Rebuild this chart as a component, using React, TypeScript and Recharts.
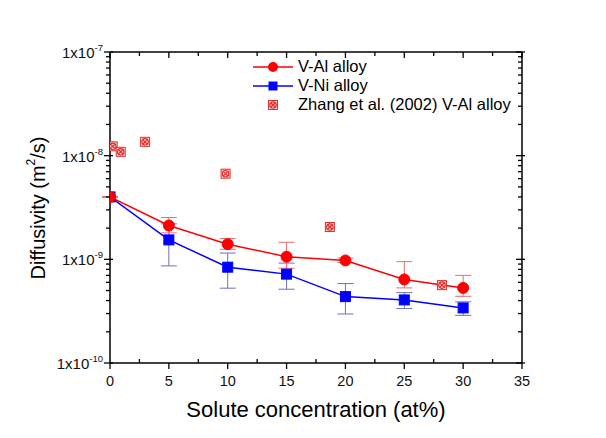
import React from "react";
import { ComposedChart, Line, Scatter, XAxis, YAxis, ErrorBar, Legend } from "recharts";

// solute concentration (at%)
const conc = [0, 5, 10, 15, 20, 25, 30];

// V-Al alloy diffusivity (m2/s) with error bounds
const vAl = [4.0e-9, 2.12e-9, 1.4e-9, 1.06e-9, 9.75e-10, 6.4e-10, 5.3e-10];
const vAlLo = [4.0e-9, 1.8e-9, 1.25e-9, 8.2e-10, 9.3e-10, 5.3e-10, 4.4e-10];
const vAlHi = [4.0e-9, 2.53e-9, 1.59e-9, 1.46e-9, 1.03e-9, 9.5e-10, 7.0e-10];

// V-Ni alloy
const vNi = [4.0e-9, 1.54e-9, 8.4e-10, 7.2e-10, 4.37e-10, 4.06e-10, 3.4e-10];
const vNiLo = [4.0e-9, 8.65e-10, 5.27e-10, 5.15e-10, 2.97e-10, 3.35e-10, 2.88e-10];
const vNiHi = [4.0e-9, 2.2e-9, 1.15e-9, 9.2e-10, 5.84e-10, 4.78e-10, 3.89e-10];

// Zhang et al. (2002) V-Al alloy
const zhangX = [0.23, 0.91, 2.98, 9.82, 18.68, 28.2];
const zhangY = [1.23e-8, 1.09e-8, 1.36e-8, 6.7e-9, 2.05e-9, 5.64e-10];

const xTicks = [0, 2.5, 5, 7.5, 10, 12.5, 15, 17.5, 20, 22.5, 25, 27.5, 30, 32.5, 35];
const yMajor = [1e-10, 1e-9, 1e-8, 1e-7];
const yTicks: number[] = [];
yMajor.forEach((d, i) => {
  if (i === yMajor.length - 1) {
    yTicks.push(d);
    return;
  }
  for (let k = 1; k < 10; k++) yTicks.push(+(k * d).toPrecision(3));
});

const alData = conc.map((c, i) => ({ x: c, y: vAl[i], err: [vAl[i] - vAlLo[i], vAlHi[i] - vAl[i]] }));
const niData = conc.map((c, i) => ({ x: c, y: vNi[i], err: [vNi[i] - vNiLo[i], vNiHi[i] - vNi[i]] }));
const zhangData = zhangX.map((x, i) => ({ x, y: zhangY[i] }));

const FONT = "'Liberation Sans', Arial, sans-serif";
const isMajorY = (v: number) => yMajor.some((m) => Math.abs(v - m) / m < 1e-6);
const isMajorX = (v: number) => v % 5 === 0;

const BottomTick = (props: any) => {
  const { x, y, payload } = props;
  const major = isMajorX(payload.value);
  return (
    <g>
      <line x1={x} x2={x} y1={y} y2={major ? y + 6 : y - 4} stroke="#000" strokeWidth={1.3} />
      {major && (
        <text x={x} y={y + 23} textAnchor="middle" fontSize={14.5} fontFamily={FONT} fill="#111">
          {payload.value}
        </text>
      )}
    </g>
  );
};

const TopTick = (props: any) => {
  const { x, y, payload } = props;
  const major = isMajorX(payload.value);
  return <line x1={x} x2={x} y1={y} y2={y + (major ? 6 : 4)} stroke="#000" strokeWidth={1.3} />;
};

const LeftTick = (props: any) => {
  const { x, y, payload } = props;
  const major = isMajorY(payload.value);
  const exp = Math.round(Math.log10(payload.value));
  return (
    <g>
      <line x1={major ? x - 6 : x - 4} x2={major ? x + 3 : x} y1={y} y2={y} stroke="#000" strokeWidth={1.3} />
      {major && (
        <text x={x - 7} y={y + 6} textAnchor="end" fontSize={15} fontFamily={FONT} fill="#111">
          1x10
          <tspan fontSize={9.5} dy={-7}>
            {exp}
          </tspan>
        </text>
      )}
    </g>
  );
};

const RightTick = (props: any) => {
  const { x, y, payload } = props;
  const major = isMajorY(payload.value);
  return <line x1={major ? x - 6 : x - 4} x2={major ? x + 3 : x} y1={y} y2={y} stroke="#000" strokeWidth={1.3} />;
};

const ZhangMark = (props: any) => {
  const { cx, cy } = props;
  if (cx == null || cy == null) return null;
  const s = 4.5;
  return (
    <g>
      <rect x={cx - s} y={cy - s} width={2 * s} height={2 * s} fill="#f8d0d0" stroke="#e03030" strokeWidth={1} />
      <circle cx={cx} cy={cy} r={3.2} fill="none" stroke="#e03030" strokeWidth={1.2} />
      <line x1={cx - 2.5} y1={cy - 2.5} x2={cx + 2.5} y2={cy + 2.5} stroke="#e03030" strokeWidth={1.2} />
      <line x1={cx - 2.5} y1={cy + 2.5} x2={cx + 2.5} y2={cy - 2.5} stroke="#e03030" strokeWidth={1.2} />
    </g>
  );
};

const RedDot = (props: any) => {
  const { cx, cy } = props;
  return <circle cx={cx} cy={cy} r={5.5} fill="#ff0000" stroke="#ff0000" strokeWidth={1} />;
};

const BlueDot = (props: any) => {
  const { cx, cy } = props;
  return <rect x={cx - 5} y={cy - 5} width={10} height={10} fill="#0000ff" stroke="#0000ff" strokeWidth={1} />;
};

const LegendBox = () => {
  const row = { display: "flex", alignItems: "center", height: 19 } as const;
  const txt = { fontFamily: FONT, fontSize: 16.5, color: "#000", marginLeft: 5 } as const;
  return (
    <div>
      <div style={row}>
        <svg width={40} height={14}>
          <line x1={0} x2={40} y1={7} y2={7} stroke="#ff0000" strokeWidth={1.5} />
          <circle cx={20} cy={7} r={5} fill="#ff0000" />
        </svg>
        <span style={txt}>V-Al alloy</span>
      </div>
      <div style={row}>
        <svg width={40} height={14}>
          <line x1={0} x2={40} y1={7} y2={7} stroke="#0000ff" strokeWidth={1.5} />
          <rect x={15.5} y={2.5} width={9} height={9} fill="#0000ff" />
        </svg>
        <span style={txt}>V-Ni alloy</span>
      </div>
      <div style={row}>
        <svg width={40} height={14}>
          <ZhangMark cx={20} cy={7} />
        </svg>
        <span style={txt}>Zhang et al. (2002) V-Al alloy</span>
      </div>
    </div>
  );
};

export default function App() {
  return (
    <div style={{ position: "absolute", left: 0, top: 0, width: 606, height: 438, background: "#fff" }}>
      <ComposedChart width={606} height={438} margin={{ top: 42, right: 74, bottom: 15, left: 0 }}>
        <XAxis
          xAxisId="b"
          type="number"
          dataKey="x"
          domain={[0, 35]}
          ticks={xTicks}
          interval={0}
          tickSize={0}
          tickMargin={0}
          tickLine={false}
          tick={<BottomTick />}
          height={60}
          stroke="#000"
          strokeWidth={1.5}
          allowDataOverflow
        />
        <XAxis
          xAxisId="t"
          orientation="top"
          type="number"
          dataKey="x"
          domain={[0, 35]}
          ticks={xTicks}
          interval={0}
          tickSize={0}
          tickMargin={0}
          tickLine={false}
          tick={<TopTick />}
          height={10}
          stroke="#000"
          strokeWidth={1.5}
          allowDataOverflow
        />
        <YAxis
          yAxisId="l"
          type="number"
          scale="log"
          domain={[1e-10, 1e-7]}
          ticks={yTicks}
          interval={0}
          tickSize={0}
          tickMargin={0}
          tickLine={false}
          tick={<LeftTick />}
          width={110}
          stroke="#000"
          strokeWidth={1.5}
          allowDataOverflow
        />
        <YAxis
          yAxisId="r"
          orientation="right"
          type="number"
          scale="log"
          domain={[1e-10, 1e-7]}
          ticks={yTicks}
          interval={0}
          tickSize={0}
          tickMargin={0}
          tickLine={false}
          tick={<RightTick />}
          width={10}
          stroke="#000"
          strokeWidth={1.5}
          allowDataOverflow
        />
        <Line
          xAxisId="b"
          yAxisId="l"
          data={niData}
          dataKey="y"
          stroke="#0000ff"
          strokeWidth={1.5}
          dot={<BlueDot />}
          isAnimationActive={false}
        >
          <ErrorBar dataKey="err" direction="y" width={8} stroke="#7070b8" strokeWidth={1} />
        </Line>
        <Line
          xAxisId="b"
          yAxisId="l"
          data={alData}
          dataKey="y"
          stroke="#ff0000"
          strokeWidth={1.5}
          dot={<RedDot />}
          isAnimationActive={false}
        >
          <ErrorBar dataKey="err" direction="y" width={8} stroke="#e07070" strokeWidth={1} />
        </Line>
        <Scatter
          xAxisId="b"
          yAxisId="l"
          data={zhangData}
          dataKey="y"
          shape={<ZhangMark />}
          isAnimationActive={false}
        />
        <Legend
          layout="vertical"
          align="center"
          verticalAlign="middle"
          content={<LegendBox />}
          wrapperStyle={{ left: 253, top: 57, width: 320 }}
        />
        <text x={316} y={417} textAnchor="middle" fontSize={22} fontFamily={FONT} fill="#000">
          Solute concentration (at%)
        </text>
        <text
          x={40}
          y={208}
          transform="rotate(-90 40 208)"
          textAnchor="middle"
          dominantBaseline="middle"
          fontSize={20}
          fontFamily={FONT}
          fill="#000"
        >
          Diffusivity (m
          <tspan fontSize={12} dy={-8}>2</tspan>
          <tspan dy={8}>/s)</tspan>
        </text>
      </ComposedChart>
    </div>
  );
}
